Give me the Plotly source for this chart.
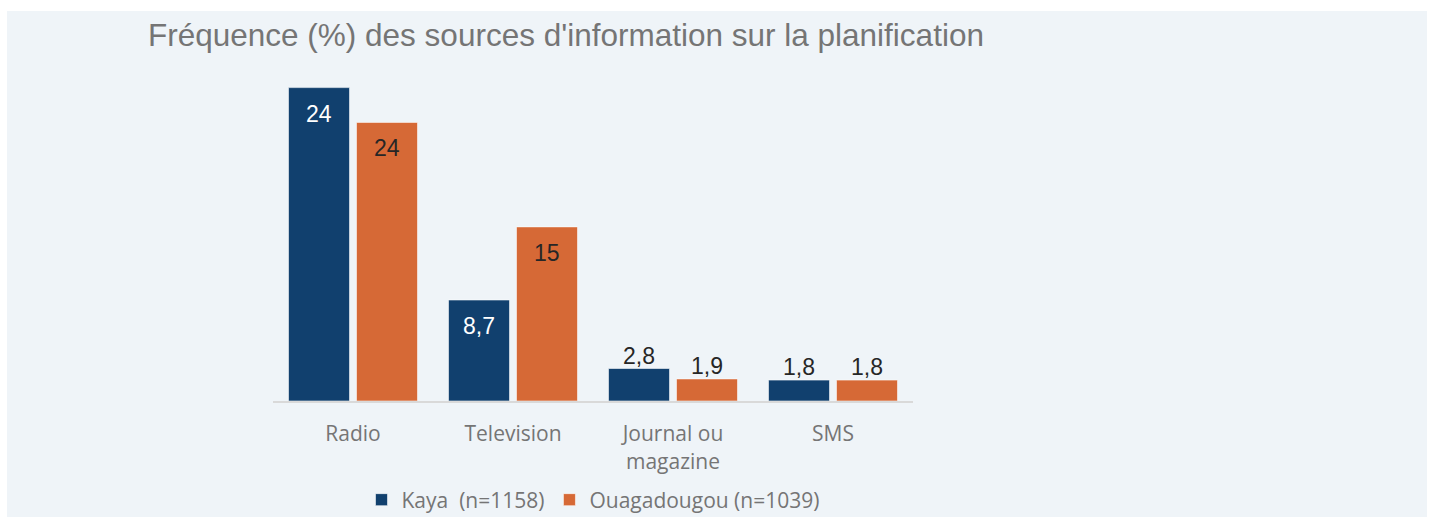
import plotly.graph_objects as go

categories = ["Radio", "Television", "Journal ou<br>magazine", "SMS"]
series_names = ["Kaya\u00a0 (n=1158)", "Ouagadougou (n=1039)"]
kaya_values = [27.0, 8.7, 2.8, 1.8]
kaya_labels = ["24", "8,7", "2,8", "1,8"]
ouaga_values = [24.0, 15.0, 1.9, 1.8]
ouaga_labels = ["24", "15", "1,9", "1,8"]
title_text = "Fréquence (%) des sources d'information sur la planification"

NAVY = "#11406E"
ORANGE = "#D66936"
PANEL = "#EFF4F8"

W, H = 1430, 517
PL, PR, PT, PB = 273, 913, 76, 401
ML, MR, MT, MB = PL, W - PR, PT, H - PB
PW, PH = PR - PL, PB - PT

fig = go.Figure()
fig.add_trace(go.Bar(x=categories, y=kaya_values, name=series_names[0],
                     marker=dict(color=NAVY, line=dict(color="rgba(255,255,255,0.55)", width=1))))
fig.add_trace(go.Bar(x=categories, y=ouaga_values, name=series_names[1],
                     marker=dict(color=ORANGE, line=dict(color="rgba(255,255,255,0.55)", width=1))))

INSIDE_MIN = 5.0
for vals, labs, dx, in_color in [(kaya_values, kaya_labels, -34, "white"),
                                 (ouaga_values, ouaga_labels, 34, "#262626")]:
    for c, v, t in zip(categories, vals, labs):
        inside = v >= INSIDE_MIN
        fig.add_annotation(x=c, y=v, text=t, showarrow=False, xshift=dx,
                           yanchor="middle", yshift=-26 if inside else 13,
                           font=dict(family="Liberation Sans, Arial", size=23,
                                     color=in_color if inside else "#262626"))

# panel background
fig.add_shape(type="rect", xref="paper", yref="paper", layer="below",
              x0=(7 - PL) / PW, x1=(1427 - PL) / PW,
              y0=(PB - H - 5) / PH, y1=(PB - 11) / PH,
              fillcolor=PANEL, line=dict(width=0))

fig.update_layout(
    width=W, height=H,
    margin=dict(l=ML, r=MR, t=MT, b=MB, pad=0, autoexpand=False),
    paper_bgcolor="white", plot_bgcolor=PANEL,
    barmode="group", bargap=0.15, bargroupgap=0.103,
    title=dict(text=title_text, xref="container", yref="container",
               x=148 / W, xanchor="left", y=1 - 35 / H, yanchor="middle",
               font=dict(family="Liberation Sans, Arial", size=31.5, color="#757575")),
    showlegend=True,
    legend=dict(orientation="h", xref="paper", yref="container",
                x=0.5, xanchor="center", y=1 - 500 / H, yanchor="middle",
                font=dict(family="Open Sans", size=21, color="#757575"),
                bgcolor="rgba(0,0,0,0)", traceorder="normal"),
    xaxis=dict(showline=True, linecolor="#D9D9D9", linewidth=2, ticks="",
               showgrid=False, tickfont=dict(family="Open Sans", size=21, color="#757575"),
               ticklabelstandoff=13, automargin=False, fixedrange=True),
    yaxis=dict(visible=False, range=[0, 28], automargin=False, fixedrange=True),
)

fig.write_html("out.html", config={"displayModeBar": False},
               post_script="document.body.style.margin='0';document.body.style.overflow='hidden';")
